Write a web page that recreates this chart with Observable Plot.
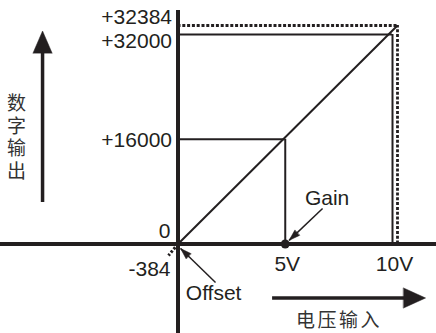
<!DOCTYPE html>
<html>
<head>
<meta charset="utf-8">
<script src="https://cdn.jsdelivr.net/npm/d3@7"></script>
<script src="https://cdn.jsdelivr.net/npm/@observablehq/plot@0.6"></script>
<style>
  html, body { margin: 0; padding: 0; background: #fff; }
  #chart svg { display: block; }
</style>
</head>
<body>
<div id="chart"></div>
<script>
// ---- data (schematic: volts on x, digital counts on y) ----
const offsetVolt = -0.12;      // voltage at which output reaches -384
const offsetValue = -384;
const gainVolt = 5;            // gain point
const gainValue = 16000;
const fullVolt = 10;
const fullValue = 32000;
const maxVolt = 10.12;
const maxValue = 32384;

const yTickValues = [32384, 32000, 16000, 0, -384];
const yTickLabels = ["+32384", "+32000", "+16000", "0", "-384"];
const xTickValues = [5, 10];
const xTickLabels = ["5V", "10V"];

const yTitle = "数字输出";
const xTitle = "电压输入";
const gainLabel = "Gain";
const offsetLabel = "Offset";

// annotation anchor points (data coordinates)
const gainTextPos = {x: 6.95, y: 7030};
const gainArrowFrom = {x: 6.74, y: 5420};
const gainArrowTo = {x: 5.18, y: 560};
const offsetTextPos = {x: 1.66, y: -6110};
const offsetArrowFrom = {x: 1.75, y: -4500};
const offsetArrowTo = {x: 0.12, y: -150};
const yArrow = {x: -5.99, yFrom: 6340, yTo: 32150};
const xArrow = {y: -6875, xFrom: 4.41, xTo: 11.43};
const yTitlePos = {x: -7.2, y: 17030};
const xTitlePos = {x: 7.51, y: -10310};

// ---- drawing ----
const ink = "#231f20";
const font = "Liberation Sans, Arial, Helvetica, sans-serif";
const cjk = "Noto Sans CJK SC, sans-serif";

const spike = {
  draw(context, l, r) {
    context.moveTo(-r, 0);
    context.lineTo(0, -l);
    context.lineTo(r, 0);
    context.closePath();
  }
};

const chart = Plot.plot({
  width: 436,
  height: 333,
  marginTop: 10, marginRight: 0, marginBottom: 0, marginLeft: 0,
  x: {type: "linear", domain: [-7.95, offsetVolt, 0, fullVolt, maxVolt, 11.94],
      range: [0, 168, 177.5, 392, 397, 436], axis: null},
  y: {type: "linear", domain: [-12298, offsetValue, 0, fullValue, maxValue, 36202],
      range: [333, 255, 243.5, 34, 25, 0], axis: null},
  style: {fontFamily: font, color: ink, background: "#fff"},
  marks: [
    // dotted (offset-shifted) characteristic
    Plot.ruleY([maxValue], {x1: 0, x2: maxVolt, stroke: ink, strokeWidth: 2.8, strokeDasharray: "3,1.8"}),
    Plot.ruleX([maxVolt], {y1: 0, y2: maxValue, stroke: ink, strokeWidth: 2.8, strokeDasharray: "3,1.8"}),
    Plot.link([0], {x1: 0, y1: 0, x2: offsetVolt, y2: offsetValue, stroke: ink, strokeWidth: 3, strokeDasharray: "2.5,1.8"}),
    // solid reference lines
    Plot.ruleY([fullValue], {x1: 0, x2: fullVolt, stroke: ink, strokeWidth: 2}),
    Plot.ruleX([fullVolt], {y1: 0, y2: fullValue, stroke: ink, strokeWidth: 2}),
    Plot.ruleY([gainValue], {x1: 0, x2: gainVolt, stroke: ink, strokeWidth: 2}),
    Plot.ruleX([gainVolt], {y1: 0, y2: gainValue, stroke: ink, strokeWidth: 2}),
    // characteristic line
    Plot.link([0], {x1: 0, y1: 0, x2: maxVolt, y2: maxValue, stroke: ink, strokeWidth: 2}),
    // axes
    Plot.ruleY([0], {stroke: ink, strokeWidth: 3.8}),
    Plot.ruleX([0], {y1: 34675, y2: -12298, stroke: ink, strokeWidth: 4}),
    // gain point
    Plot.dot([0], {x: gainVolt, y: 0, r: 4.5, fill: ink, stroke: null}),
    // y tick labels
    Plot.text([0], {x: 0, y: yTickValues[0], text: () => yTickLabels[0], textAnchor: "end", dx: -6, dy: -8.5, fontSize: 21, fill: ink}),
    Plot.text([0], {x: 0, y: yTickValues[1], text: () => yTickLabels[1], textAnchor: "end", dx: -6, dy: 6.5, fontSize: 21, fill: ink}),
    Plot.text([0], {x: 0, y: yTickValues[2], text: () => yTickLabels[2], textAnchor: "end", dx: -6, dy: 1.5, fontSize: 21, fill: ink}),
    Plot.text([0], {x: 0, y: yTickValues[3], text: () => yTickLabels[3], textAnchor: "end", dx: -7.5, dy: -12.5, fontSize: 21, fill: ink}),
    Plot.text([0], {x: 0, y: yTickValues[4], text: () => yTickLabels[4], textAnchor: "end", dx: -7.5, dy: 14, fontSize: 21, fill: ink}),
    // x tick labels
    Plot.text(xTickValues, {x: d => d, y: 0, text: (d, i) => xTickLabels[i], dx: 2, dy: 20, fontSize: 21, fill: ink}),
    // annotations
    Plot.text([gainTextPos], {x: "x", y: "y", text: () => gainLabel, fontSize: 21, fill: ink}),
    Plot.link([0], {x1: gainArrowFrom.x, y1: gainArrowFrom.y, x2: gainArrowTo.x, y2: gainArrowTo.y, stroke: ink, strokeWidth: 1.5}),
    Plot.vector([gainArrowTo], {x: "x", y: "y", length: 11, r: 3.5, rotate: -133, anchor: "end", shape: spike, fill: ink, stroke: ink, strokeWidth: 0.5}),
    Plot.text([offsetTextPos], {x: "x", y: "y", text: () => offsetLabel, fontSize: 21, fill: ink}),
    Plot.link([0], {x1: offsetArrowFrom.x, y1: offsetArrowFrom.y, x2: offsetArrowTo.x, y2: offsetArrowTo.y, stroke: ink, strokeWidth: 1.5}),
    Plot.vector([offsetArrowTo], {x: "x", y: "y", length: 11, r: 3.5, rotate: -46, anchor: "end", shape: spike, fill: ink, stroke: ink, strokeWidth: 0.5}),
    // big direction arrows
    Plot.ruleX([yArrow.x], {y1: yArrow.yFrom, y2: yArrow.yTo - 3000, stroke: ink, strokeWidth: 3.5}),
    Plot.vector([yArrow], {x: "x", y: "yTo", length: 22, r: 9.5, rotate: 0, anchor: "end", shape: spike, fill: ink, stroke: ink, strokeWidth: 0.5}),
    Plot.ruleY([xArrow.y], {x1: xArrow.xFrom, x2: xArrow.xTo - 0.9, stroke: ink, strokeWidth: 3.5}),
    Plot.vector([xArrow], {x: "xTo", y: "y", length: 22, r: 10, rotate: 90, anchor: "end", shape: spike, fill: ink, stroke: ink, strokeWidth: 0.5}),
    // axis titles
    Plot.text([yTitlePos], {x: "x", y: "y", text: () => yTitle, fontSize: 19, fontFamily: cjk, fill: "#333"}),
    Plot.text([xTitlePos], {x: "x", y: "y", text: () => xTitle, fontSize: 19, fontFamily: cjk, fill: "#333"})
  ]
});

// set the y title in vertical writing mode (one glyph per row)
d3.select(chart).selectAll("text")
  .filter(function() { return this.textContent === yTitle; })
  .attr("writing-mode", "vertical-rl")
  .attr("dy", null)
  .style("letter-spacing", "3.5px");
d3.select(chart).selectAll("text")
  .filter(function() { return this.textContent === xTitle; })
  .style("letter-spacing", "2.5px");

document.getElementById("chart").appendChild(chart);
</script>
</body>
</html>
